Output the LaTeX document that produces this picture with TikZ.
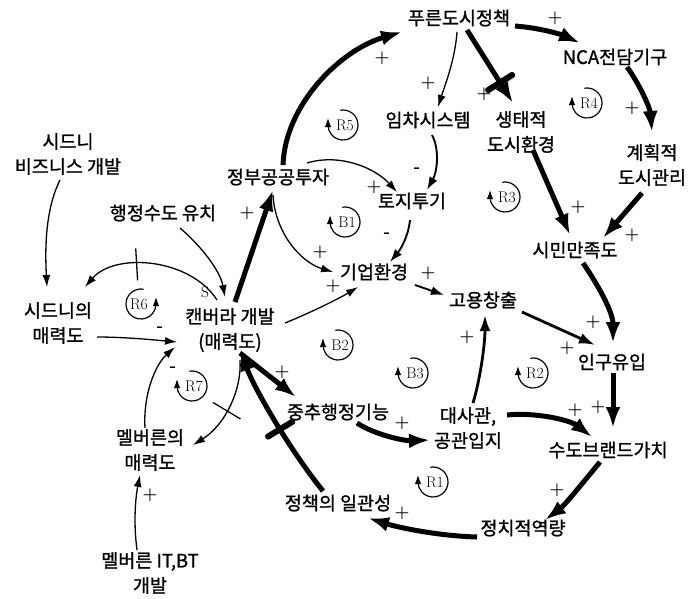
\documentclass[tikz,border=0pt]{standalone}
\usepackage{fontspec}
\newfontfamily\cjk{Noto Sans CJK KR}[FakeBold=1.2]
\usetikzlibrary{arrows.meta,calc}
\begin{document}
\begin{tikzpicture}[x=1pt,y=-1pt,
  txt/.style={font=\cjk\fontsize{18.5}{25}\selectfont, align=center, inner sep=1pt},
  thinarr/.style={line width=1.3pt, -{Latex[length=12pt,width=8pt]}},
  midthin/.style={line width=1.9pt, -{Latex[length=13pt,width=9pt]}},
  midarr/.style={line width=2.8pt, -{Latex[length=16pt,width=11pt]}},
  thickarr/.style={line width=5pt, -{Latex[length=21pt,width=15pt]}},
  sgn/.style={font=\fontsize{17}{17}\selectfont\bfseries, inner sep=0pt},
  lp/.style={font=\fontsize{15.5}{15.5}\selectfont, inner sep=0pt},
  thickbar/.style={sloped, fill=black, minimum width=6pt, minimum height=34pt, inner sep=0pt, rounded corners=2.5pt},
  thinbar/.style={sloped, fill=black, minimum width=1.3pt, minimum height=32pt, inner sep=0pt},
  loopline/.style={line width=1.2pt, -{Latex[length=9pt,width=6.5pt]}},
  pics/cwloop/.style={code={
    \draw[loopline] (-100:15) arc[start angle=-100, end angle=180, radius=15] -- ++(0,-7);
    \node[lp] (-lab) at (2,0) {#1};
  }},
  pics/ccwloop/.style={code={
    \draw[loopline] (-80:15) arc[start angle=-80, end angle=-360, radius=15] -- ++(0,-7);
    \node[lp] (-lab) at (-2,0) {#1};
  }},
]
\useasboundingbox (0,0) rectangle (691,598);

% nodes
\node[txt] (pds) at (459,18) {푸른도시정책};
\node[txt] (nca) at (615,57) {NCA전담기구};
\node[txt] (imc) at (428,120) {임차시스템};
\node[txt] (eco) at (521,132) {생태적\\도시환경};
\node[txt] (plan) at (652,165) {계획적\\도시관리};
\node[txt] (sbd) at (68,154) {시드니\\비즈니스 개발};
\node[txt] (gov) at (278,177) {정부공공투자};
\node[txt] (land) at (412,201) {토지투기};
\node[txt] (sat) at (575,250) {시민만족도};
\node[txt] (hsd) at (163,213) {행정수도 유치};
\node[txt] (biz) at (374,272) {기업환경};
\node[txt] (job) at (483,300) {고용창출};
\node[txt] (syd) at (58,323) {시드니의\\매력도};
\node[txt] (can) at (230,330) {캔버라 개발\\(매력도)};
\node[txt] (pop) at (612,362) {인구유입};
\node[txt] (cen) at (338,412) {중추행정기능};
\node[txt] (emb) at (468,428) {대사관,\\공관입지};
\node[txt] (brand) at (608,450) {수도브랜드가치};
\node[txt] (mel) at (150,450) {멜버른의\\매력도};
\node[txt] (pol) at (338,503) {정책의 일관성};
\node[txt] (cap) at (523,528) {정치적역량};
\node[txt] (mit) at (150,573) {멜버른 IT,BT\\개발};

% thick connectors
\draw[thickarr] ($(can)+(5,-28)$) -- ($(gov)+(-5,13)$);
\draw[thickarr] ($(gov)+(5,-12)$) .. controls (285,105) and (340,50) .. ($(pds)+(-57,14)$);
\draw[thickarr] ($(pds)+(56,8)$) .. controls (540,28) and (560,34) .. ($(nca)+(-35,-14)$);
\draw[thickarr] ($(pds)+(8,12)$) -- ($(eco)+(-8,-29)$) node[thickbar,pos=0.72]{};
\draw[thickarr] ($(nca)+(12,10)$) .. controls (640,85) and (650,108) .. ($(plan)+(0,-33)$);
\draw[thickarr] ($(eco)+(12,18)$) -- ($(sat)+(-5,-15)$);
\draw[thickarr] ($(plan)+(-10,28)$) -- ($(sat)+(28,-12)$);
\draw[thickarr] ($(sat)+(8,13)$) .. controls (598,285) and (613,312) .. ($(pop)+(1,-19)$);
\draw[thickarr] ($(pop)+(1,11)$) -- ($(brand)+(5,-22)$);
\draw[thickarr] ($(brand)+(-8,12)$) .. controls (585,480) and (565,505) .. ($(cap)+(22,-8)$);
\draw[thickarr] ($(cap)+(-46,9)$) .. controls (440,536) and (400,528) .. ($(pol)+(30,15)$);
\draw[thickarr] ($(pol)+(-15,-12)$) .. controls (290,450) and (255,390) .. ($(can)+(10,20)$) node[thickbar,pos=0.44]{};
\draw[thickarr] ($(can)+(10,23)$) -- ($(cen)+(-42,-15)$);
\draw[thickarr] ($(cen)+(19,11)$) .. controls (375,435) and (405,441) .. ($(emb)+(-38,12)$);
\draw[thickarr] ($(emb)+(39,-13)$) .. controls (535,412) and (570,420) .. ($(brand)+(-16,-13)$);

% medium connectors
\draw[midarr] ($(job)+(39,12)$) -- ($(pop)+(-17,-17)$);
\draw[midarr] ($(emb)+(5,-25)$) .. controls (480,380) and (485,345) .. ($(job)+(2,15)$);
\draw[midthin] ($(biz)+(41,13)$) -- ($(job)+(-39,-5)$);
\draw[midthin] ($(imc)+(4,15)$) .. controls (440,150) and (437,172) .. ($(land)+(15,-11)$);
\draw[midthin] ($(land)+(-2,19)$) .. controls (408,238) and (400,250) .. ($(biz)+(16,-10)$);

% thin connectors
\draw[thinarr] ($(pds)+(-2,14)$) .. controls (455,60) and (445,85) .. ($(imc)+(10,-13)$);
\draw[thinarr] ($(gov)+(29,-14)$) .. controls (340,153) and (375,168) .. ($(land)+(-15,-9)$);
\draw[thinarr] ($(gov)+(-5,18)$) .. controls (275,232) and (300,262) .. ($(biz)+(-41,0)$);
\draw[thinarr] ($(can)+(55,-7)$) .. controls (310,313) and (340,298) .. ($(biz)+(-16,15)$);
\draw[thinarr] ($(hsd)+(17,15)$) .. controls (200,245) and (220,270) .. ($(can)+(-5,-33)$);
\draw[thinarr] ($(can)+(-13,-30)$) .. controls (190,258) and (115,252) .. ($(syd)+(27,-36)$) node[thinbar,pos=0.6]{};
\draw[thinarr] ($(syd)+(39,14)$) .. controls (125,337) and (155,340) .. ($(can)+(-53,12)$);
\draw[thinarr] ($(sbd)+(-8,26)$) .. controls (45,210) and (45,250) .. ($(syd)+(-11,-36)$);
\draw[thinarr] ($(mel)+(-5,-22)$) .. controls (143,395) and (155,365) .. ($(can)+(-55,17)$);
\draw[thinarr] ($(can)+(10,30)$) .. controls (242,390) and (225,425) .. ($(mel)+(43,-5)$) node[thinbar,pos=0.55]{};
\draw[thinarr] ($(mit)+(-13,-23)$) .. controls (133,520) and (136,495) .. ($(mel)+(-10,25)$);

% polarity labels
\node[sgn] (l1) at (247,213) {+};
\node[sgn] (l2) at (382,58) {+};
\node[sgn] (l3) at (555,18) {+};
\node[sgn] (l4) at (484,94) {+};
\node[sgn] (l5) at (632,108) {+};
\node[sgn] (l6) at (578,207) {+};
\node[sgn] (l7) at (632,235) {+};
\node[sgn] (l8) at (593,322) {+};
\node[sgn] (l9) at (598,407) {+};
\node[sgn] (l10) at (557,490) {+};
\node[sgn] (l11) at (402,513) {+};
\node[sgn] (l13) at (282,372) {+};
\node[sgn] (l14) at (402,423) {+};
\node[sgn] (l15) at (575,410) {+};
\node[sgn] (l16) at (567,348) {+};
\node[sgn] (l17) at (467,337) {+};
\node[sgn] (l18) at (428,273) {+};
\node[sgn] (l19) at (428,83) {+};
\node[sgn] (l20) at (417,170) {-};
\node[sgn] (l21) at (374,187) {+};
\node[sgn] (l22) at (320,252) {+};
\node[sgn] (l23) at (387,235) {-};
\node[sgn] (l24) at (333,286) {+};
\node[lp] (l26) at (205,292) {S};
\node[sgn] (l27) at (160,329) {-};
\node[sgn] (l29) at (173,369) {-};
\node[sgn] (l31) at (150,495) {+};

% loops
\pic (r5) at (343,125) {cwloop=R5};
\pic (r4) at (587,103) {cwloop=R4};
\pic (b1) at (345,222) {cwloop=B1};
\pic (r3) at (505,197) {cwloop=R3};
\pic (r6) at (141,304) {ccwloop=R6};
\pic (b2) at (338,345) {cwloop=B2};
\pic (b3) at (413,373) {cwloop=B3};
\pic (r2) at (533,373) {cwloop=R2};
\pic (r7) at (192,386) {cwloop=R7};
\pic (r1) at (433,482) {cwloop=R1};
\end{tikzpicture}
\end{document}
